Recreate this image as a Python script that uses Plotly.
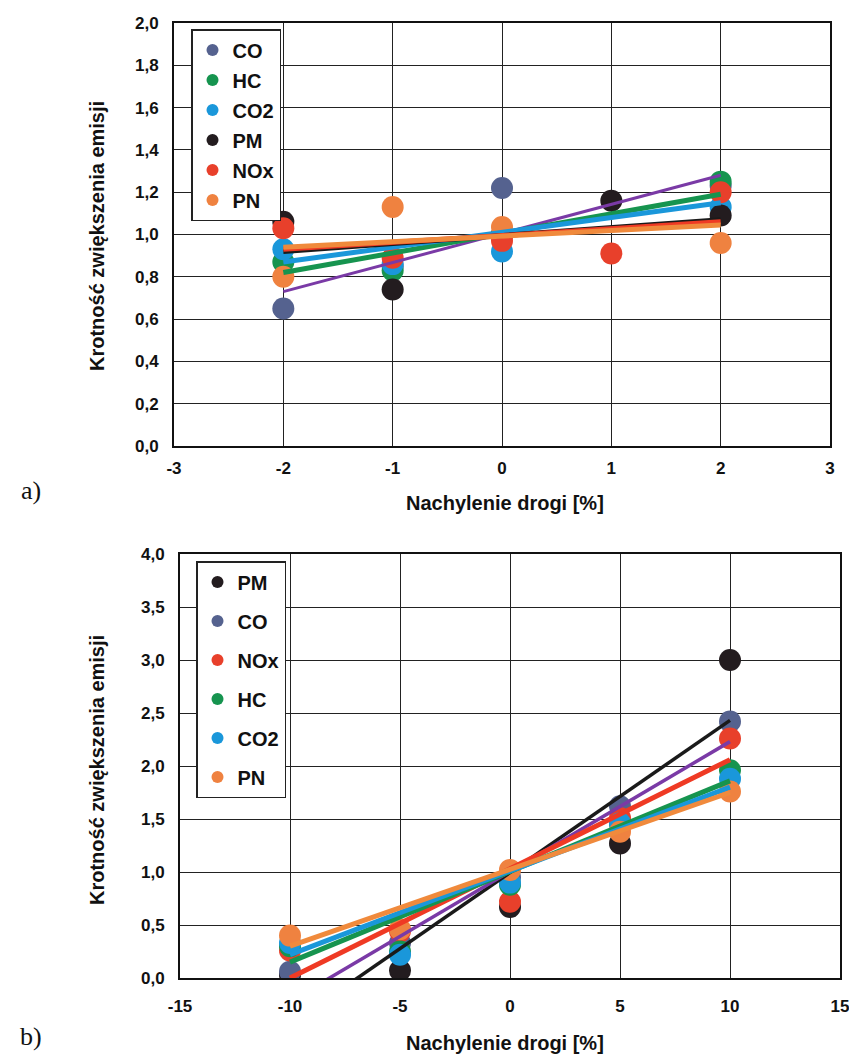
import plotly.graph_objects as go

# ---------------- data: chart a) ----------------
xa = [-2, -1, 0, 1, 2]
series_a = ["CO", "HC", "CO2", "PM", "NOx", "PN"]
a_CO = [0.65, 0.85, 1.22, None, 1.23]
a_HC = [0.87, 0.83, 1.00, None, 1.25]
a_CO2 = [0.93, 0.86, 0.92, None, 1.13]
a_PM = [1.06, 0.74, 1.00, 1.16, 1.09]
a_NOx = [1.03, 0.89, 0.97, 0.91, 1.20]
a_PN = [0.80, 1.13, 1.035, None, 0.96]
# trend lines (value at x=-2, value at x=2)
trend_xa = [-2, 2]
ta_CO = [0.73, 1.28]
ta_HC = [0.82, 1.19]
ta_CO2 = [0.87, 1.15]
ta_PM = [0.92, 1.07]
ta_NOx = [0.93, 1.06]
ta_PN = [0.94, 1.045]
xa_ticks = [-3, -2, -1, 0, 1, 2, 3]
xa_ticktext = ["-3", "-2", "-1", "0", "1", "2", "3"]

# ---------------- data: chart b) ----------------
xb = [-10, -5, 0, 5, 10]
series_b = ["PM", "CO", "NOx", "HC", "CO2", "PN"]
b_PM = [0.03, 0.07, 0.67, 1.27, 3.00]
b_CO = [0.06, 0.33, 0.95, 1.62, 2.42]
b_NOx = [0.26, 0.44, 0.72, 1.51, 2.26]
b_HC = [0.30, 0.25, 0.88, 1.45, 1.96]
b_CO2 = [0.33, 0.22, 0.90, 1.46, 1.88]
b_PN = [0.40, 0.46, 1.02, 1.38, 1.76]
trend_xb = [-10, 10]
tb_PM = [-0.44, 2.43]
tb_CO = [-0.22, 2.23]
tb_NOx = [0.00, 2.06]
tb_HC = [0.15, 1.86]
tb_CO2 = [0.22, 1.80]
tb_PN = [0.30, 1.75]
xb_ticks = [-15, -10, -5, 0, 5, 10, 15]
xb_ticktext = ["-15", "-10", "-5", "0", "5", "10", "15"]

marker_col = {"CO": "#55628f", "HC": "#16944f", "CO2": "#1a97da",
              "PM": "#231c1f", "NOx": "#e8402b", "PN": "#ef8240"}
trend_col = {"CO": "#7a3aa6", "HC": "#16944f", "CO2": "#1a97da",
             "PM": "#1a1a1a", "NOx": "#ef3a24", "PN": "#f08a3c"}
trend_w_a = {"CO": 3, "HC": 5, "CO2": 5, "PM": 5, "NOx": 5, "PN": 5}
trend_w_b = {"CO": 3.5, "HC": 5, "CO2": 5, "PM": 3.5, "NOx": 5, "PN": 5}

data_a = {"CO": a_CO, "HC": a_HC, "CO2": a_CO2, "PM": a_PM, "NOx": a_NOx, "PN": a_PN}
trend_a = {"CO": ta_CO, "HC": ta_HC, "CO2": ta_CO2, "PM": ta_PM, "NOx": ta_NOx, "PN": ta_PN}
data_b = {"PM": b_PM, "CO": b_CO, "NOx": b_NOx, "HC": b_HC, "CO2": b_CO2, "PN": b_PN}
trend_b = {"PM": tb_PM, "CO": tb_CO, "NOx": tb_NOx, "HC": tb_HC, "CO2": tb_CO2, "PN": tb_PN}

# page has an 8px body margin: work in screen pixels and convert
OFF = 8
W, H = 857 - OFF, 1059 - OFF


def px(X):
    return (X - OFF) / W


def py(Y):
    return 1 - (Y - OFF) / H


FONT = "Liberation Sans, Arial, sans-serif"

fig = go.Figure()

for name in series_a:
    fig.add_trace(go.Scatter(x=xa, y=data_a[name], mode="markers", name=name,
                             marker=dict(size=22, color=marker_col[name], line=dict(width=0)),
                             xaxis="x", yaxis="y", legend="legend", legendgroup="a" + name))
for name in series_a:
    fig.add_trace(go.Scatter(x=trend_xa, y=trend_a[name], mode="lines", showlegend=False,
                             line=dict(color=trend_col[name], width=trend_w_a[name]),
                             xaxis="x", yaxis="y", hoverinfo="skip"))

for name in series_b:
    fig.add_trace(go.Scatter(x=xb, y=data_b[name], mode="markers", name=name,
                             marker=dict(size=22, color=marker_col[name], line=dict(width=0)),
                             xaxis="x2", yaxis="y2", legend="legend2", legendgroup="b" + name))
for name in series_b:
    fig.add_trace(go.Scatter(x=trend_xb, y=trend_b[name], mode="lines", showlegend=False,
                             line=dict(color=trend_col[name], width=trend_w_b[name]),
                             xaxis="x2", yaxis="y2", hoverinfo="skip"))

tickfont = dict(family=FONT, size=17, color="#111", weight="bold")
axis_common = dict(showgrid=True, gridcolor="#222", gridwidth=1.3, zeroline=False,
                   showline=True, linecolor="#111", linewidth=2, mirror=True,
                   ticks="", tickfont=tickfont, automargin=False)

legend_font = dict(family=FONT, size=20, color="#111", weight="bold")

fig.update_layout(
    width=W, height=H,
    margin=dict(l=0, r=0, t=0, b=0),
    paper_bgcolor="white", plot_bgcolor="white",
    separators=", ",
    showlegend=True,
    xaxis=dict(domain=[px(174), px(830)], range=[-3, 3], tickmode="array",
               tickvals=xa_ticks, ticktext=xa_ticktext, anchor="y",
               ticklabelstandoff=6, **axis_common),
    yaxis=dict(domain=[py(446), py(23)], range=[0, 2], dtick=0.2,
               tickformat=".1f", anchor="x", ticklabelstandoff=10, **axis_common),
    xaxis2=dict(domain=[px(180), px(840)], range=[-15, 15], tickmode="array",
                tickvals=xb_ticks, ticktext=xb_ticktext, anchor="y2",
                ticklabelstandoff=12, **axis_common),
    yaxis2=dict(domain=[py(978), py(554)], range=[0, 4], dtick=0.5,
                tickformat=".1f", anchor="x2", ticklabelstandoff=10, **axis_common),
    legend=dict(x=px(191), y=py(29), xanchor="left", yanchor="top",
                bgcolor="white", bordercolor="#222", borderwidth=1.5,
                font=legend_font, tracegroupgap=1, itemsizing="constant",
                traceorder="grouped"),
    legend2=dict(x=px(196), y=py(561), xanchor="left", yanchor="top",
                 bgcolor="white", bordercolor="#222", borderwidth=1.5,
                 font=legend_font, tracegroupgap=10, itemsizing="constant",
                 traceorder="grouped"),
)

title_font = dict(family=FONT, size=20, color="#111", weight="bold")
common_ann = dict(xref="paper", yref="paper", showarrow=False,
                  xanchor="center", yanchor="middle")
fig.add_annotation(text="Krotność zwiększenia emisji", textangle=-90,
                   x=px(97), y=py(236), font=title_font, **common_ann)
fig.add_annotation(text="Krotność zwiększenia emisji", textangle=-90,
                   x=px(97), y=py(770), font=title_font, **common_ann)
fig.add_annotation(text="Nachylenie drogi [%]",
                   x=px(505), y=py(503), font=title_font, **common_ann)
fig.add_annotation(text="Nachylenie drogi [%]",
                   x=px(505), y=py(1043), font=title_font, **common_ann)
lab_font = dict(family="Liberation Serif, DejaVu Serif, serif", size=26, color="#111")
fig.add_annotation(text="a)", x=px(31), y=py(490), font=lab_font, **common_ann)
fig.add_annotation(text="b)", x=px(31), y=py(1036), font=lab_font, **common_ann)

fig.write_html("out.html")
